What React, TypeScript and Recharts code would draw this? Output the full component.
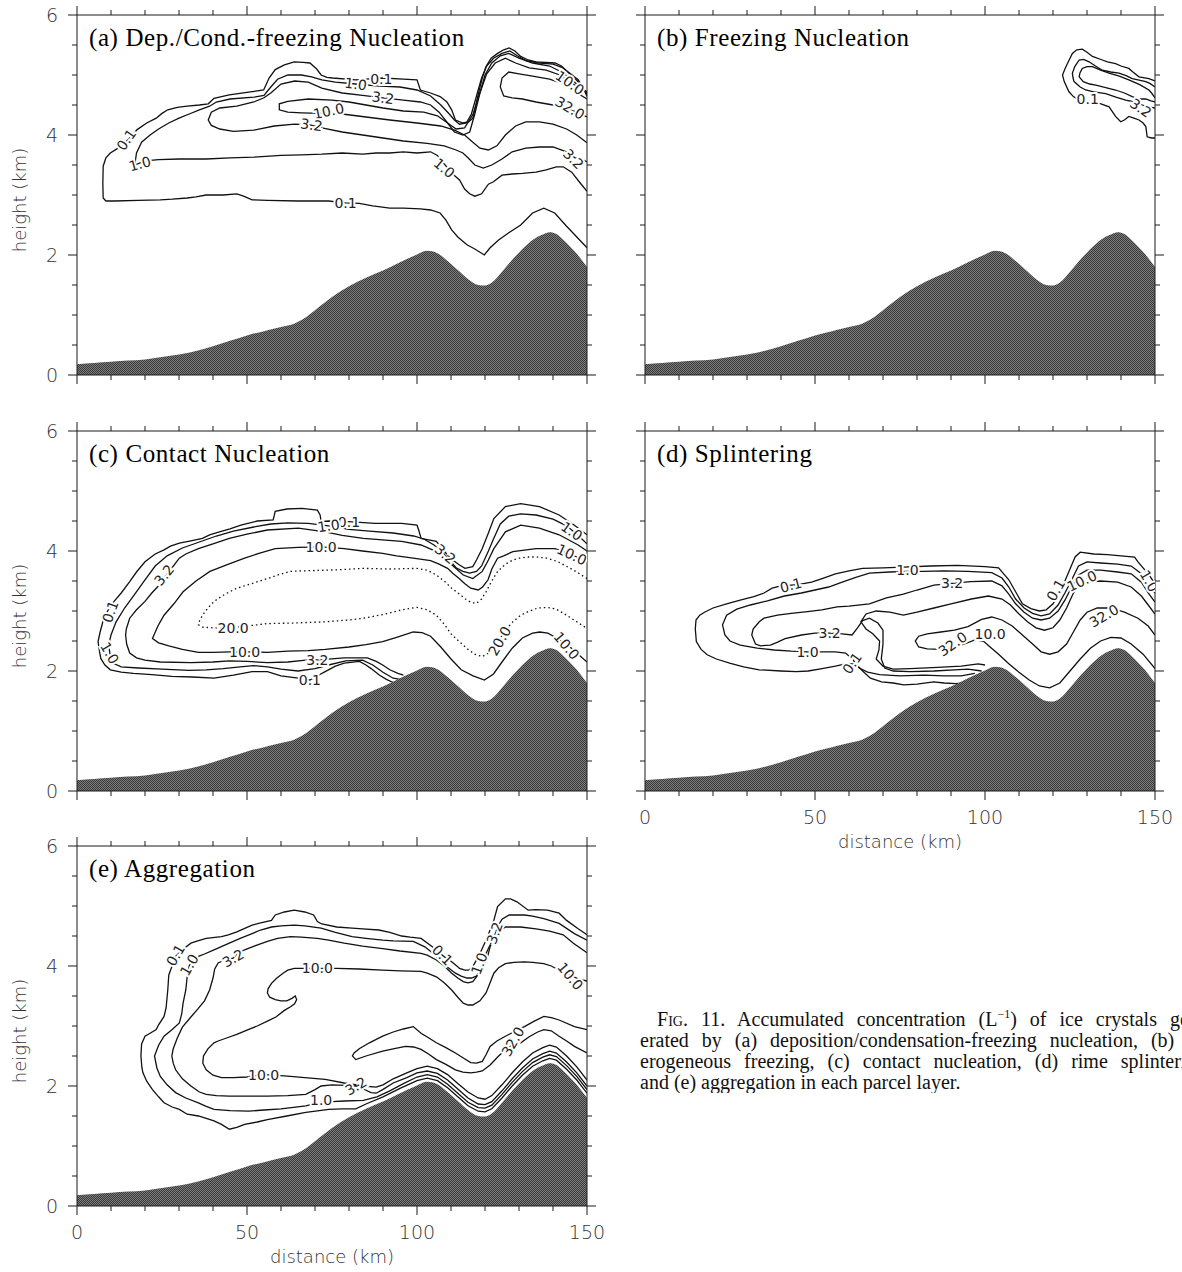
import { ComposedChart, Line, Area, Scatter, XAxis, YAxis } from "recharts";

type Pt = [number, number];
type Lab = [number, number, string, number];

const X_TICKS = [0, 10, 20, 30, 40, 50, 60, 70, 80, 90, 100, 110, 120, 130, 140, 150];
const Y_TICKS = [0, 0.5, 1, 1.5, 2, 2.5, 3, 3.5, 4, 4.5, 5, 5.5, 6];
const X_MAJOR = [0, 50, 100, 150];
const Y_MAJOR = [0, 2, 4, 6];

// terrain profile (km)
const TERRAIN: Pt[] = [
  [0, 0.18], [5, 0.2], [10, 0.22], [15, 0.24], [20, 0.26], [25, 0.3], [30, 0.34], [35, 0.4],
  [40, 0.48], [45, 0.57], [50, 0.66], [55, 0.73], [60, 0.8], [64, 0.86], [67, 0.95], [70, 1.08],
  [75, 1.3], [80, 1.48], [85, 1.62], [90, 1.74], [95, 1.88], [100, 2.01], [103, 2.07], [106, 2.03],
  [109, 1.9], [112, 1.75], [115, 1.6], [118, 1.5], [120, 1.49], [122, 1.54], [125, 1.72], [128, 1.92],
  [131, 2.1], [134, 2.25], [137, 2.34], [139, 2.38], [141, 2.35], [144, 2.2], [147, 2.02], [150, 1.8],
];

// (a) deposition / condensation-freezing
const A_01: Pt[] = [
  [150, 2.12], [147, 2.3], [144, 2.48], [140.5, 2.7], [137.3, 2.78], [134, 2.7], [130.5, 2.5], [127, 2.37],
  [124, 2.25], [121.5, 2.12], [119.8, 2.0], [117, 2.1], [114.7, 2.17], [112, 2.3], [110.2, 2.42], [108.5, 2.58],
  [106.8, 2.7], [104, 2.75], [101, 2.77], [96, 2.78], [92, 2.78], [87, 2.82], [83, 2.86], [79, 2.87], [74, 2.9],
  [65, 2.9], [56, 2.91], [51.5, 2.92], [49, 2.98], [47, 3.02], [43, 3.0], [38, 3.0], [35, 2.97], [32.4, 2.95],
  [28, 2.93], [24.5, 2.92], [18, 2.91], [11, 2.9], [8.5, 2.9], [7.7, 2.95], [7.6, 3.2], [7.7, 3.48], [8.5, 3.62],
  [9.8, 3.7], [11.5, 3.76], [13.2, 3.82], [15.5, 3.95], [17.7, 4.09], [20.5, 4.2], [23.3, 4.28], [25, 4.36],
  [26.7, 4.42], [29.5, 4.46], [32.4, 4.48], [36, 4.5], [38.6, 4.52], [40.3, 4.61], [42.5, 4.64], [44.8, 4.67],
  [50, 4.71], [54.9, 4.75], [56.5, 4.95], [58.3, 5.09], [61, 5.17], [63.9, 5.22], [66.5, 5.21], [68.5, 5.2],
  [70.5, 5.1], [71.8, 5.0], [73.5, 4.96], [75.2, 4.95], [82, 4.92], [90, 4.95], [96, 4.93], [100, 4.92],
  [101, 4.75], [104, 4.7], [106.8, 4.64], [108.8, 4.55], [110.2, 4.42], [111.3, 4.25], [113.5, 4.2],
  [115.2, 4.22], [116.4, 4.28], [117.3, 4.5], [118.1, 4.7], [119.2, 4.95], [120.3, 5.14], [121.8, 5.28],
  [123.7, 5.36], [125.5, 5.42], [127.1, 5.45], [128.8, 5.4], [130.5, 5.31], [132.7, 5.25], [135, 5.22],
  [140.6, 5.2], [142.5, 5.15], [144, 5.06], [145.8, 4.99], [147.4, 4.92], [148.8, 4.8], [150, 4.64],
];
const A_1: Pt[] = [
  [150, 3.06], [148, 3.2], [145.5, 3.38], [143, 3.47], [141, 3.47], [138, 3.42], [135, 3.38], [131, 3.36],
  [128, 3.35], [125, 3.33], [122.5, 3.22], [121, 3.18], [119, 3.02], [117, 2.98], [115.5, 3.02], [114, 3.1],
  [112.5, 3.25], [110.5, 3.35], [108, 3.52], [106, 3.66], [104, 3.72], [100, 3.7], [96, 3.72], [92, 3.7],
  [88, 3.7], [84, 3.68], [78, 3.7], [72, 3.68], [66, 3.67], [60, 3.66], [52, 3.63], [45, 3.62], [38, 3.6],
  [30, 3.6], [24, 3.59], [20, 3.57], [17, 3.5], [17.5, 3.7], [19, 3.88], [21.5, 4.0], [24, 4.1], [27, 4.2],
  [30, 4.28], [33, 4.35], [36, 4.42], [39, 4.48], [41, 4.55], [45, 4.6], [52, 4.63], [55, 4.66], [57, 4.8],
  [59, 4.93], [62, 5.0], [66, 5.0], [69, 4.97], [72, 4.92], [76, 4.88], [82, 4.85], [88, 4.82], [95, 4.8],
  [100, 4.75], [104, 4.65], [107, 4.5], [109.5, 4.35], [111, 4.25], [112.5, 4.18], [114.5, 4.2], [116, 4.35],
  [117.5, 4.65], [119, 4.95], [120.5, 5.15], [122.5, 5.28], [125, 5.36], [127.3, 5.4], [129.5, 5.32],
  [132, 5.24], [136, 5.2], [140, 5.18], [143, 5.12], [145.5, 5.0], [148, 4.85], [150, 4.68],
];
const A_32: Pt[] = [
  [150, 3.55], [148.5, 3.6], [146.5, 3.62], [144, 3.72], [140, 3.8], [136, 3.8], [132, 3.78], [128, 3.72],
  [125, 3.6], [122, 3.5], [119.5, 3.45], [117, 3.5], [115, 3.62], [113.5, 3.7], [111.5, 3.75], [108, 3.82],
  [103, 3.86], [96, 3.9], [90, 3.95], [84, 4.0], [78, 4.05], [72, 4.12], [68.5, 4.17], [64, 4.18], [58, 4.15],
  [52, 4.08], [46, 4.06], [42, 4.1], [39.5, 4.16], [38.6, 4.25], [39.5, 4.38], [42, 4.45], [47, 4.48],
  [52, 4.55], [55, 4.62], [57, 4.7], [60, 4.85], [64, 4.9], [68, 4.88], [72, 4.78], [78, 4.7], [84, 4.66],
  [90, 4.62], [96, 4.58], [101, 4.55], [104, 4.5], [106.5, 4.38], [109, 4.2], [111, 4.05], [113.5, 4.0],
  [115.5, 4.05], [117, 4.35], [118.5, 4.7], [120, 5.0], [122, 5.2], [124.5, 5.32], [127, 5.36], [130, 5.28],
  [134, 5.2], [139, 5.15], [142.5, 5.05], [145, 4.95], [147.5, 4.82], [150, 4.7],
];
const A_10: Pt[] = [
  [150, 3.87], [147, 4.0], [144, 4.1], [140, 4.18], [136, 4.22], [132, 4.22], [129, 4.15], [126, 4.0],
  [123.5, 3.82], [121, 3.75], [118.5, 3.78], [116, 3.9], [114, 4.0], [111, 4.08], [107, 4.15], [100, 4.2],
  [92, 4.25], [85, 4.3], [78, 4.35], [72, 4.36], [66, 4.37], [62, 4.38], [59.5, 4.42], [59.5, 4.52],
  [62, 4.56], [68, 4.6], [75, 4.58], [80, 4.55], [85, 4.5], [90, 4.45], [96, 4.4], [102, 4.38], [106, 4.32],
  [109, 4.2], [111.5, 4.1], [114, 4.12], [116.5, 4.35], [118.5, 4.7], [120.5, 5.02], [123, 5.2], [126, 5.28],
  [129, 5.2], [133, 5.12], [138, 5.08], [142, 5.0], [145, 4.88], [147.5, 4.8], [150, 4.72],
];
const A_320: Pt[] = [
  [150, 4.3], [147, 4.38], [144, 4.44], [140, 4.5], [135, 4.55], [131, 4.6], [128, 4.62], [125.5, 4.65],
  [124.5, 4.8], [125, 4.95], [127, 5.05], [130, 5.02], [134, 4.98], [139, 4.93], [143, 4.85], [146.5, 4.72],
  [150, 4.6],
];
const A_LABELS: Lab[] = [
  [14.5, 3.92, "0.1", -55], [18.5, 3.52, "1.0", -15], [79, 2.87, "0.1", 0], [89.5, 4.94, "0.1", 0],
  [82, 4.85, "1.0", 8], [90, 4.62, "3.2", 8], [74, 4.4, "10.0", -12], [69, 4.17, "3.2", 8],
  [108, 3.45, "1.0", 40], [145, 4.87, "10.0", 35], [145, 4.45, "32.0", 30], [146, 3.6, "3.2", 45],
];

// (b) freezing nucleation
const B_01: Pt[] = [
  [150, 4.9], [148.2, 4.94], [145.3, 4.97], [143.5, 5.05], [142.3, 5.11], [140, 5.15], [138.4, 5.19],
  [136, 5.22], [134.5, 5.25], [131.6, 5.31], [130, 5.38], [128.6, 5.43], [127, 5.42], [125.7, 5.36],
  [124.5, 5.22], [123.5, 5.1], [122.8, 5.0], [123.3, 4.89], [124.7, 4.72], [126, 4.64], [127.7, 4.58],
  [130, 4.55], [133.5, 4.53], [136.5, 4.47], [138.4, 4.31], [139.9, 4.22], [141, 4.25], [142.3, 4.31],
  [143.8, 4.28], [145.3, 4.25], [146.5, 4.2], [147.3, 4.14], [147.7, 3.97], [149, 3.95], [150, 3.95],
];
const B_1: Pt[] = [
  [150, 4.8], [148.5, 4.86], [147.3, 4.89], [145, 4.92], [143.3, 4.94], [141.5, 4.99], [139.4, 5.03],
  [137, 5.05], [134.5, 5.08], [132.5, 5.15], [130.6, 5.22], [129, 5.26], [127.7, 5.25], [126.4, 5.14],
  [125.7, 5.03], [125.9, 4.95], [126.2, 4.89], [128, 4.8], [129.6, 4.75], [132, 4.72], [135.5, 4.69],
  [138.5, 4.63], [141.4, 4.58], [144, 4.55], [146.3, 4.5], [148, 4.47], [150, 4.45],
];
const B_32: Pt[] = [
  [150, 4.62], [149, 4.7], [148.2, 4.75], [145.5, 4.84], [142.3, 4.92], [139.5, 4.98], [136.5, 5.03],
  [134, 5.08], [131.6, 5.14], [130, 5.14], [128.6, 5.11], [127.9, 5.03], [127.7, 4.97], [128.9, 4.89],
  [130.8, 4.85], [132.6, 4.83], [135.5, 4.79], [138.4, 4.75], [141, 4.7], [143.3, 4.64], [145.5, 4.6],
  [147.3, 4.6], [148.8, 4.57], [150, 4.55],
];
const B_LABELS: Lab[] = [[130.2, 4.6, "0.1", 0], [145.8, 4.45, "3.2", 35]];

// (c) contact nucleation
const C_01: Pt[] = [
  [150, 4.27], [146.3, 4.43], [141.8, 4.6], [136, 4.74], [130.5, 4.79], [126, 4.74], [122.6, 4.54], [121, 4.3],
  [119.2, 4.04], [117.5, 3.85], [116.4, 3.74], [114.1, 3.71], [112.4, 3.77], [110.5, 3.85], [109, 3.93],
  [107.3, 4.05], [105.7, 4.16], [103, 4.19], [101.2, 4.21], [100.5, 4.35], [100, 4.43], [95.5, 4.46],
  [87.6, 4.46], [80, 4.49], [74, 4.5], [71.8, 4.49], [71.5, 4.6], [70.7, 4.68], [66.2, 4.71], [61.7, 4.7],
  [58.3, 4.66], [57.7, 4.52], [53, 4.5], [48.2, 4.43], [45, 4.37], [41.9, 4.32], [39, 4.27], [36.9, 4.21],
  [33.5, 4.17], [30.1, 4.13], [27.5, 4.08], [25.6, 4.02], [23, 3.95], [20, 3.82], [17.5, 3.65], [15.5, 3.49],
  [13, 3.3], [10.9, 3.16], [9, 3.0], [7.6, 2.82], [6.8, 2.65], [6.2, 2.49], [6.6, 2.33], [7, 2.21], [8.2, 2.1],
  [9.8, 2.02], [13, 1.98], [16.6, 1.96], [22, 1.94], [27.9, 1.91], [34, 1.9], [40.3, 1.88], [46, 1.93],
  [51.5, 1.99], [56, 1.99], [60, 1.92], [65.1, 1.88], [68.5, 1.85], [71, 1.93], [73, 1.99], [76, 2.08],
  [78.6, 2.13], [83.1, 2.16], [85, 2.1], [86.5, 2.04], [89, 1.93], [91, 1.86], [93.3, 1.8],
];
const C_1: Pt[] = [
  [150, 4.12], [147, 4.28], [144, 4.42], [140, 4.53], [135, 4.6], [130.5, 4.62], [127, 4.58], [124.5, 4.45],
  [122.5, 4.2], [121, 4.0], [119, 3.75], [117.5, 3.66], [115.5, 3.63], [113.5, 3.66], [111.5, 3.72],
  [109.5, 3.85], [107.5, 3.98], [105, 4.1], [102, 4.2], [99, 4.25], [93, 4.3], [86, 4.33], [80, 4.36],
  [74, 4.42], [68, 4.46], [62, 4.47], [57, 4.45], [52, 4.4], [46, 4.33], [41, 4.25], [36, 4.15], [31, 4.05],
  [26.5, 3.92], [23, 3.75], [20, 3.52], [17, 3.28], [14, 3.05], [11.5, 2.82], [10, 2.6], [9.3, 2.43],
  [9.8, 2.25], [11, 2.12], [13, 2.07], [18, 2.05], [25, 2.03], [33, 2.01], [38, 2.02], [43, 2.04], [48, 2.07],
  [52, 2.09], [56, 2.07], [60, 2.03], [65, 2.0], [70, 2.04], [74, 2.1], [79, 2.17], [84, 2.18], [87, 2.1],
  [90, 1.98], [93, 1.88], [95, 1.86],
];
const C_32: Pt[] = [
  [150, 4.0], [147.4, 4.1], [141.8, 4.27], [136, 4.38], [130.5, 4.43], [126, 4.32], [122.6, 4.04],
  [121, 3.85], [119.2, 3.66], [116.4, 3.54], [113.6, 3.6], [110.2, 3.77], [107.5, 3.9], [105.7, 3.99],
  [101.2, 4.1], [95.5, 4.16], [84.2, 4.21], [78, 4.26], [73, 4.32], [65.1, 4.38], [56, 4.35], [50, 4.28],
  [44.8, 4.21], [40, 4.12], [35.7, 4.04], [32, 3.95], [30.1, 3.88], [27, 3.65], [24.5, 3.45], [22, 3.3],
  [20, 3.16], [17.5, 3.02], [15.5, 2.88], [14.5, 2.7], [14.3, 2.6], [14.6, 2.45], [15.5, 2.3], [17.5, 2.22],
  [20, 2.18], [24.5, 2.15], [33.5, 2.14], [40, 2.15], [44.8, 2.17], [50, 2.16], [56, 2.14], [62, 2.15],
  [67.3, 2.18], [72, 2.19], [78.6, 2.22], [85.4, 2.22], [88, 2.16], [89.9, 2.1], [92, 2.02], [94.4, 1.96],
  [96, 1.93],
];
const C_10: Pt[] = [
  [150, 3.82], [147, 3.9], [145, 3.95], [140.6, 4.04], [135, 4.04], [128.2, 3.99], [125.5, 3.92],
  [123.7, 3.88], [122, 3.7], [120.9, 3.52], [119.3, 3.4], [118, 3.35], [115.8, 3.38], [114, 3.46],
  [112.4, 3.54], [110.5, 3.63], [109, 3.71], [106.5, 3.78], [104, 3.84], [98.9, 3.88], [94, 3.92],
  [89.9, 3.96], [84, 4.0], [78.6, 4.04], [71.8, 4.07], [65, 4.06], [58.3, 4.04], [53.5, 3.96], [49.3, 3.88],
  [44, 3.77], [39.1, 3.66], [35, 3.5], [31.2, 3.32], [28.5, 3.12], [25.6, 2.93], [23.8, 2.75], [22.2, 2.54],
  [24, 2.47], [27, 2.42], [31, 2.36], [35.7, 2.31], [40, 2.31], [45, 2.32], [50, 2.32], [56, 2.31],
  [62, 2.33], [68, 2.34], [73, 2.36], [80, 2.4], [85, 2.44], [89.9, 2.49], [94, 2.56], [98.9, 2.65],
  [101.5, 2.64], [104, 2.58], [107, 2.4], [110, 2.2], [113, 2.02], [116.5, 1.92], [119.8, 1.85], [122.5, 1.95],
  [125, 2.15], [128, 2.38], [131, 2.55], [134, 2.63], [136.1, 2.65], [138.5, 2.63], [141, 2.55], [144, 2.45],
  [147, 2.3], [150, 2.15],
];
const C_20: Pt[] = [
  [150, 3.54], [147, 3.65], [145.1, 3.71], [141.5, 3.82], [138.4, 3.88], [135, 3.9], [132.7, 3.9], [130, 3.88],
  [128.2, 3.85], [126, 3.78], [123.7, 3.66], [122, 3.5], [120.3, 3.32], [119, 3.2], [117.5, 3.13], [116, 3.14],
  [114.7, 3.18], [112.5, 3.28], [110.2, 3.38], [108, 3.5], [105.7, 3.6], [103, 3.68], [100, 3.71], [92, 3.7],
  [84.2, 3.71], [78, 3.69], [73, 3.68], [67, 3.67], [62.8, 3.66], [59, 3.6], [56, 3.54], [51, 3.45], [47, 3.38],
  [43.5, 3.28], [40.3, 3.16], [38.5, 3.05], [36.9, 2.93], [36, 2.83], [35.7, 2.77], [37, 2.73], [40, 2.72],
  [45, 2.72], [50, 2.75], [56, 2.79], [64, 2.8], [73, 2.82], [80, 2.85], [84.2, 2.88], [90, 2.94], [95.5, 3.02],
  [100, 3.06], [103, 3.02], [105.7, 2.93], [108, 2.78], [110, 2.62], [112.4, 2.49], [115, 2.36], [117, 2.28],
  [119.2, 2.24], [121, 2.3], [123, 2.4], [124.5, 2.55], [126, 2.68], [128.2, 2.82], [130.5, 2.93],
  [132.7, 2.99], [135.5, 3.05], [138.4, 3.06], [141, 3.03], [144, 2.93], [147, 2.82], [150, 2.71],
];
const C_LABELS: Lab[] = [
  [80, 4.49, "0.1", 0], [74, 4.42, "1.0", -8], [71.8, 4.07, "10.0", 0], [25.6, 3.6, "3.2", -50],
  [9.8, 2.99, "0.1", -70], [9.6, 2.3, "1.0", 60], [45.9, 2.72, "20.0", 0], [49.3, 2.32, "10.0", 0],
  [70.7, 2.18, "3.2", 0], [68.5, 1.85, "0.1", 0], [124.3, 2.5, "20.0", -60], [144, 2.42, "10.0", 50],
  [145.5, 4.33, "1.0", 35], [145.5, 3.94, "10.0", 25], [108.3, 3.95, "3.2", 40],
];

// (d) splintering
const D_01: Pt[] = [
  [150, 3.45], [148.5, 3.58], [146.5, 3.72], [145, 3.82], [144, 3.9], [140, 3.92], [136, 3.94], [132, 3.95],
  [128, 3.98], [126.5, 3.9], [125, 3.7], [123.5, 3.5], [122, 3.3], [120, 3.12], [118, 3.02], [116, 3.0],
  [113.5, 3.04], [111, 3.12], [109, 3.32], [107, 3.52], [105.5, 3.62], [104, 3.72], [100, 3.74], [92, 3.76],
  [84, 3.75], [76, 3.73], [70, 3.72], [64, 3.71], [60, 3.67], [56, 3.62], [52.1, 3.54], [49, 3.48], [45, 3.44],
  [40, 3.42], [37.4, 3.38], [35, 3.3], [32, 3.24], [28, 3.18], [24, 3.12], [20, 3.05], [17.5, 2.98],
  [16.1, 2.93], [15, 2.85], [14.8, 2.7], [15.1, 2.49], [16.5, 2.36], [18.3, 2.27], [21, 2.2], [24.9, 2.13],
  [29, 2.07], [33.6, 2.02], [40, 2.0], [44.5, 1.99], [48, 2.0], [52.1, 2.04], [56, 2.08], [59, 2.12],
  [62, 2.12], [64, 2.0], [66.3, 1.88], [69.6, 1.82], [73, 1.8], [76.1, 1.77], [80, 1.78], [84.9, 1.82],
  [88, 1.8], [91.4, 1.79], [94, 1.8], [96, 1.84],
];
const D_1: Pt[] = [
  [150, 3.3], [148, 3.45], [146, 3.62], [143, 3.75], [139, 3.78], [134, 3.8], [130, 3.82], [127.5, 3.75],
  [125.5, 3.52], [123.5, 3.3], [121.5, 3.1], [119, 2.95], [116.5, 2.92], [114, 2.96], [111.5, 3.05],
  [109, 3.2], [107, 3.4], [105, 3.55], [102, 3.64], [95, 3.66], [88, 3.67], [82, 3.66], [77, 3.66],
  [72, 3.65], [66, 3.63], [62, 3.56], [58, 3.48], [54, 3.4], [50, 3.35], [46, 3.3], [41, 3.25], [36, 3.17],
  [31, 3.1], [27, 3.03], [24, 2.93], [22.8, 2.77], [23.5, 2.6], [25, 2.5], [28, 2.43], [33, 2.38],
  [38, 2.35], [43, 2.33], [47.8, 2.32], [52, 2.32], [56, 2.32], [59, 2.3], [61, 2.2], [63, 2.05],
  [65.5, 1.98], [69, 1.94], [75, 1.92], [82, 1.93], [88, 1.92], [93, 1.92], [97, 1.96],
];
const D_32: Pt[] = [
  [150, 3.15], [148, 3.3], [146, 3.48], [143, 3.62], [139, 3.65], [134, 3.68], [130, 3.68], [127.5, 3.6],
  [125.5, 3.4], [123.5, 3.18], [121.5, 3.0], [119, 2.88], [116.5, 2.85], [114, 2.88], [111.5, 2.98],
  [109, 3.12], [107, 3.28], [105, 3.42], [102, 3.5], [95.8, 3.49], [90.3, 3.46], [85, 3.43], [80, 3.35],
  [76, 3.28], [71, 3.22], [66, 3.12], [60, 3.08], [56.5, 3.07], [52, 3.02], [47.8, 2.99], [43, 2.96],
  [39, 2.93], [35, 2.88], [33.6, 2.82], [31.8, 2.7], [31.4, 2.6], [32.5, 2.45], [34, 2.42], [36.9, 2.43],
  [39, 2.48], [41.2, 2.54], [46, 2.6], [50, 2.63], [54.3, 2.63], [58, 2.62], [60.9, 2.6], [62.5, 2.72],
  [64, 2.84], [66, 2.88], [68.5, 2.8], [70, 2.68], [70, 2.45], [69.5, 2.2], [70.5, 2.05], [73, 2.0],
  [78, 1.99], [85, 2.0], [91, 2.02], [95, 2.03], [99, 2.0],
];
const D_10: Pt[] = [
  [150, 2.95], [148, 3.1], [146, 3.25], [143, 3.4], [139, 3.48], [134, 3.5], [130, 3.48], [128, 3.45],
  [126, 3.3], [124, 3.05], [122, 2.85], [120, 2.72], [117.5, 2.68], [115, 2.72], [112.5, 2.82], [110, 2.95],
  [107.5, 3.1], [105, 3.2], [101, 3.25], [96, 3.2], [90, 3.12], [85, 3.05], [80, 2.98], [76, 2.93],
  [72, 2.98], [68, 3.0], [65, 2.95], [63.5, 2.82], [65, 2.7], [67, 2.62], [69, 2.5], [68.8, 2.35],
  [68, 2.2], [70, 2.08], [73, 2.03], [78, 2.04], [86, 2.06], [93, 2.08], [98, 2.12], [100, 2.1],
];
const D_320: Pt[] = [
  [150, 2.6], [148, 2.75], [145, 2.88], [141, 2.98], [137, 3.05], [133, 3.05], [130, 2.98], [128, 2.85],
  [126, 2.65], [124, 2.45], [121.5, 2.32], [119, 2.28], [116.5, 2.32], [114, 2.45], [111, 2.6], [108, 2.75],
  [105, 2.85], [102, 2.9], [99, 2.86], [95, 2.74], [91, 2.68], [87, 2.65], [83, 2.62], [80.5, 2.58],
  [79.5, 2.5], [80.5, 2.4], [83, 2.37], [87, 2.36], [91, 2.38], [94, 2.45], [97, 2.52], [99.5, 2.5],
  [101.5, 2.4], [104, 2.28], [107, 2.12], [110, 1.98], [113, 1.85], [116, 1.75], [119, 1.72], [122, 1.8],
  [125, 2.0], [128, 2.2], [131, 2.38], [134, 2.5], [137, 2.56], [140, 2.55], [143, 2.45], [146.5, 2.28],
  [150, 2.04],
];
const D_LABELS: Lab[] = [
  [42.9, 3.43, "0.1", -15], [77.2, 3.69, "1.0", 0], [90.3, 3.46, "3.2", 0], [54.3, 2.63, "3.2", 0],
  [47.8, 2.32, "1.0", 0], [60.9, 2.13, "0.1", -55], [90.5, 2.45, "32.0", -35], [101.5, 2.62, "10.0", 0],
  [120.8, 3.35, "0.1", -60], [128.5, 3.5, "10.0", -25], [135, 2.92, "32.0", -30], [148.3, 3.5, "1.0", 60],
];

// (e) aggregation
const E_01: Pt[] = [
  [150, 4.52], [147.4, 4.62], [144, 4.76], [141.8, 4.88], [138.4, 4.93], [135, 4.94], [132.7, 4.93],
  [129.4, 5.07], [127.5, 5.12], [126, 5.12], [123.7, 4.99], [122.6, 4.76], [121.5, 4.6], [120.3, 4.43],
  [118.1, 4.16], [116.4, 3.99], [115.2, 3.93], [114.1, 3.93], [112.5, 3.96], [111.9, 3.99], [110, 4.08],
  [107.9, 4.16], [106, 4.25], [104.5, 4.32], [101.2, 4.46], [98, 4.48], [95.5, 4.5], [92, 4.56], [88.8, 4.6],
  [84, 4.62], [80.9, 4.63], [76.4, 4.65], [72, 4.7], [70.7, 4.74], [69.6, 4.85], [67, 4.9], [63.9, 4.93],
  [61, 4.9], [58.3, 4.85], [57.2, 4.76], [54, 4.72], [51.5, 4.68], [49, 4.62], [47, 4.57], [44.5, 4.52],
  [42.5, 4.49], [38, 4.46], [35.5, 4.42], [33.5, 4.38], [31, 4.27], [29, 4.16], [27.9, 3.99], [27, 3.85],
  [26.7, 3.6], [26.2, 3.3], [25.6, 3.16], [24, 3.02], [23.3, 2.94], [21.5, 2.88], [20, 2.83], [19, 2.7],
  [18.8, 2.5], [19.1, 2.3], [19.4, 2.22], [20.5, 2.08], [22.2, 1.94], [24, 1.82], [25.6, 1.72], [28, 1.65],
  [30.1, 1.61], [32.4, 1.53], [35.7, 1.5], [38, 1.46], [40.3, 1.42], [42.5, 1.36], [44.8, 1.28], [47, 1.31],
  [49.3, 1.36], [53, 1.4], [56, 1.44], [61.7, 1.5], [67.3, 1.56], [74.1, 1.61], [78, 1.62], [82, 1.62],
  [85, 1.7], [90, 1.82], [95, 1.96], [100, 2.09], [103, 2.13], [106, 2.09], [109, 1.97], [112, 1.82],
  [115, 1.67], [118, 1.58], [120, 1.57], [122, 1.62], [125, 1.8], [128, 2.0], [131, 2.18], [134, 2.33],
  [137, 2.42], [139, 2.46], [141, 2.43], [144, 2.28], [147, 2.1], [150, 1.88],
];
const E_1: Pt[] = [
  [150, 4.43], [146.3, 4.54], [141.8, 4.71], [137.3, 4.79], [134, 4.83], [131.6, 4.85], [127.1, 4.85],
  [125, 4.78], [123.7, 4.65], [122.5, 4.45], [121.5, 4.32], [120.5, 4.1], [119, 3.95], [117.5, 3.83],
  [116, 3.8], [114.7, 3.8], [113, 3.83], [111.3, 3.88], [109, 3.98], [106.8, 4.1], [104.5, 4.22],
  [102.3, 4.32], [98.9, 4.41], [93, 4.42], [89.9, 4.43], [85, 4.46], [80.9, 4.49], [76, 4.56], [71.8, 4.63],
  [67, 4.67], [63.9, 4.68], [60, 4.67], [57.2, 4.65], [54, 4.6], [51.5, 4.54], [48, 4.46], [44.8, 4.38],
  [40.3, 4.27], [37.5, 4.2], [35.7, 4.16], [34, 4.1], [33, 4.0], [32.4, 3.82], [32, 3.6], [31.2, 3.38],
  [30.8, 3.2], [30.1, 3.05], [28, 2.94], [25.6, 2.83], [24, 2.68], [22.8, 2.5], [23.5, 2.3], [24.5, 2.16],
  [26.5, 2.02], [29, 1.89], [32, 1.8], [35.7, 1.72], [38, 1.66], [40.3, 1.61], [45, 1.59], [50.4, 1.58],
  [55, 1.6], [60, 1.62], [67.3, 1.67], [71.8, 1.73], [75, 1.74], [78.6, 1.75], [84.2, 1.76], [88.2, 1.82],
  [92, 1.92], [96, 2.04], [100, 2.15], [103, 2.19], [106, 2.15], [109, 2.03], [112, 1.88], [115, 1.73],
  [118, 1.64], [120, 1.63], [122, 1.68], [125, 1.86], [128, 2.06], [131, 2.24], [134, 2.39], [137, 2.48],
  [139, 2.52], [141, 2.49], [144, 2.34], [147, 2.16], [150, 1.94],
];
const E_32: Pt[] = [
  [150, 4.22], [146, 4.38], [143, 4.52], [139, 4.58], [135, 4.62], [130.5, 4.65], [126, 4.65], [124, 4.57],
  [122.6, 4.49], [121.5, 4.35], [120.3, 4.21], [119.4, 4.05], [118.6, 3.94], [117.5, 3.82], [116.4, 3.74],
  [115, 3.72], [113.6, 3.74], [112, 3.8], [110.2, 3.88], [108, 4.0], [105.7, 4.1], [103, 4.18], [101.2, 4.21],
  [95, 4.25], [89.9, 4.29], [84, 4.33], [78.6, 4.38], [74, 4.43], [70.7, 4.46], [66, 4.48], [62.8, 4.49],
  [59, 4.46], [56, 4.41], [52.5, 4.34], [49.3, 4.27], [47, 4.2], [45.9, 4.13], [43.5, 4.1], [41.5, 4.05],
  [40.5, 3.95], [40, 3.8], [39, 3.6], [37.5, 3.42], [35.5, 3.28], [33.5, 3.15], [31, 2.98], [29.5, 2.8],
  [28.3, 2.62], [27.9, 2.5], [28.3, 2.38], [29, 2.27], [31, 2.12], [33.5, 2.0], [36, 1.9], [38, 1.86],
  [41, 1.84], [44.8, 1.83], [50, 1.83], [56, 1.83], [62, 1.84], [67.3, 1.86], [70, 1.94], [71.8, 2.0],
  [75, 2.02], [79, 2.01], [82, 2.0], [84.2, 1.95], [86.5, 1.89], [88, 1.88], [89.9, 1.94], [93, 2.05],
  [97, 2.14], [100, 2.22], [103, 2.25], [106, 2.21], [109, 2.1], [112, 1.95], [115, 1.8], [118, 1.7],
  [120, 1.69], [122, 1.74], [125, 1.92], [128, 2.12], [131, 2.3], [134, 2.45], [137, 2.54], [139, 2.58],
  [141, 2.55], [144, 2.4], [147, 2.22], [150, 2.0],
];
const E_10: Pt[] = [
  [150, 3.75], [147.5, 3.78], [145.1, 3.85], [143, 3.9], [141.8, 3.93], [139.5, 4.0], [137.3, 4.04],
  [134, 4.06], [131.6, 4.07], [128.5, 4.06], [126, 4.04], [124, 3.97], [122.6, 3.88], [121.5, 3.72],
  [120.3, 3.55], [118.5, 3.42], [116.4, 3.35], [115, 3.35], [113.6, 3.38], [112, 3.48], [110.2, 3.6],
  [108, 3.72], [105.7, 3.82], [103, 3.88], [101.2, 3.91], [95, 3.92], [89.9, 3.93], [83, 3.95], [76.4, 3.96],
  [70, 3.96], [63.9, 3.96], [62, 3.93], [60.6, 3.88], [58.8, 3.8], [57.2, 3.71], [56.2, 3.62], [56, 3.55],
  [56.7, 3.48], [58.3, 3.44], [60, 3.42], [61.7, 3.42], [63.2, 3.46], [64.2, 3.5], [64.6, 3.44], [64, 3.37],
  [62.8, 3.32], [61, 3.26], [58.5, 3.15], [56, 3.08], [53, 3.0], [50, 2.93], [47, 2.86], [44, 2.8],
  [41.5, 2.75], [40.3, 2.72], [38.5, 2.62], [37.2, 2.5], [37, 2.38], [38, 2.27], [40, 2.18], [42.5, 2.14],
  [46, 2.14], [50, 2.15], [54.9, 2.19], [58, 2.18], [62.8, 2.16], [67, 2.14], [73, 2.11], [78.6, 2.05],
  [84.2, 2.0], [88, 1.98], [90, 2.02], [93, 2.12], [97, 2.22], [100, 2.29], [103, 2.33], [106, 2.29],
  [109, 2.19], [112, 2.04], [115, 1.9], [118, 1.8], [120, 1.78], [122, 1.84], [125, 2.02], [128, 2.22],
  [131, 2.4], [134, 2.55], [137, 2.64], [139, 2.68], [141, 2.65], [144, 2.5], [147, 2.32], [150, 2.1],
];
const E_320: Pt[] = [
  [150, 2.94], [146.3, 2.99], [141.8, 3.1], [139.5, 3.14], [137.3, 3.16], [134.5, 3.08], [131.6, 2.99],
  [128.8, 2.91], [126, 2.83], [123.5, 2.75], [121.5, 2.66], [120.3, 2.52], [119.2, 2.41], [117.5, 2.38],
  [115.8, 2.39], [113.5, 2.47], [111.3, 2.55], [108.5, 2.64], [105.7, 2.72], [103.5, 2.8], [101.2, 2.88],
  [98.9, 2.99], [96, 2.95], [93, 2.9], [89.9, 2.83], [86, 2.72], [83, 2.62], [81.5, 2.55], [81, 2.5],
  [82, 2.44], [85, 2.5], [89.9, 2.58], [93, 2.62], [96.6, 2.66], [99, 2.65], [101.2, 2.61], [103.5, 2.53],
  [105.7, 2.44], [108.5, 2.36], [111.3, 2.27], [113.5, 2.23], [115.8, 2.22], [117.5, 2.23], [119.2, 2.25],
  [121.5, 2.35], [124, 2.5], [126.5, 2.63], [128.5, 2.7], [130.5, 2.72], [133, 2.82], [135.5, 2.9],
  [137.3, 2.94], [139.5, 2.92], [141.8, 2.83], [144, 2.75], [146.3, 2.66], [150, 2.55],
];
const E_LABELS: Lab[] = [
  [29, 4.18, "0.1", -60], [33, 4.02, "1.0", -60], [45.9, 4.13, "3.2", -30], [70.7, 3.96, "10.0", 0],
  [54.9, 2.18, "10.0", 0], [82, 2.0, "3.2", -30], [71.8, 1.76, "1.0", 0], [107.5, 4.18, "0.1", 45],
  [118.3, 4.04, "1.0", -70], [122.8, 4.55, "3.2", -70], [145.1, 3.83, "10.0", 50], [128.2, 2.74, "32.0", -60],
];

const AXIS_FONT = "'DejaVu Sans', 'Liberation Sans', sans-serif";
const SERIF = "'Liberation Serif', 'Times New Roman', serif";
const INK = "#1a1a1a";

const PLOT_W = 510;
const PLOT_H = 360;
const LEFT_W = 75;
const RIGHT_W = 20;
const TOP_H = 20;
const BOTTOM_H = 60;

const toXY = (pts: Pt[]) => pts.map(([x, y]) => ({ x, y }));

function makeTick(side: "bottom" | "top" | "left" | "right", showText: boolean) {
  return (p: any) => {
    const v = p.payload.value;
    const major = side === "bottom" || side === "top" ? X_MAJOR.includes(v) : Y_MAJOR.includes(v);
    const len = major ? 9 : 5;
    const { x, y } = p;
    let line;
    if (side === "bottom") line = <line x1={x} x2={x} y1={y} y2={y + len} stroke={INK} />;
    else if (side === "top") line = <line x1={x} x2={x} y1={y} y2={y - len} stroke={INK} />;
    else if (side === "left") line = <line x1={x} x2={x - len} y1={y} y2={y} stroke={INK} />;
    else line = <line x1={x} x2={x + len} y1={y} y2={y} stroke={INK} />;
    let text = null;
    if (showText && major) {
      if (side === "bottom")
        text = (
          <text x={x} y={y + 33} textAnchor="middle" fontSize={19} fontFamily={AXIS_FONT} fontWeight={200} fill="#333">
            {v}
          </text>
        );
      if (side === "left")
        text = (
          <text x={x - 19} y={y + 7} textAnchor="end" fontSize={19} fontFamily={AXIS_FONT} fontWeight={200} fill="#333">
            {v}
          </text>
        );
    }
    return (
      <g>
        {line}
        {text}
      </g>
    );
  };
}

const labelShape = (p: any) => {
  const { cx, cy, payload } = p;
  return (
    <text
      x={cx}
      y={cy}
      transform={`rotate(${payload.a} ${cx} ${cy})`}
      textAnchor="middle"
      dominantBaseline="central"
      fontSize={14}
      fontFamily={AXIS_FONT}
      fill="#222"
      stroke="#fff"
      strokeWidth={4}
      paintOrder="stroke"
    >
      {payload.t}
    </text>
  );
};

type Series = { pts: Pt[]; dotted?: boolean };

function Panel(props: {
  id: string;
  left: number;
  top: number;
  title: string;
  series: Series[];
  labels: Lab[];
  yText: boolean;
  xText: boolean;
}) {
  const { id, left, top, title, series, labels, yText, xText } = props;
  const W = LEFT_W + PLOT_W + RIGHT_W;
  const H = TOP_H + PLOT_H + BOTTOM_H;
  const labData = labels.map(([x, y, t, a]) => ({ x, y, t, a }));
  return (
    <div style={{ position: "absolute", left: left - LEFT_W, top: top - TOP_H, width: W, height: H }}>
      <ComposedChart width={W} height={H} margin={{ top: 0, right: 0, bottom: 0, left: 0 }}>
        <defs>
          <pattern id={`stip-${id}`} width={2} height={2} patternUnits="userSpaceOnUse">
            <rect width={2} height={2} fill="#3a3a3a" />
            <rect x={0} y={0} width={1} height={1} fill="#7c7c7c" />
            <rect x={1} y={1} width={1} height={1} fill="#7c7c7c" />
          </pattern>
        </defs>
        <XAxis
          xAxisId="b"
          type="number"
          dataKey="x"
          domain={[0, 150]}
          allowDataOverflow
          ticks={X_TICKS}
          interval={0}
          orientation="bottom"
          height={BOTTOM_H}
          tickLine={false}
          tickSize={0}
          tickMargin={0}
          axisLine={{ stroke: INK }}
          tick={makeTick("bottom", xText)}
        />
        <XAxis
          xAxisId="t"
          type="number"
          dataKey="x"
          domain={[0, 150]}
          allowDataOverflow
          ticks={X_TICKS}
          interval={0}
          orientation="top"
          height={TOP_H}
          tickLine={false}
          tickSize={0}
          tickMargin={0}
          axisLine={{ stroke: INK }}
          tick={makeTick("top", false)}
        />
        <YAxis
          yAxisId="l"
          type="number"
          dataKey="y"
          domain={[0, 6]}
          allowDataOverflow
          ticks={Y_TICKS}
          interval={0}
          width={LEFT_W}
          tickLine={false}
          tickSize={0}
          tickMargin={0}
          axisLine={{ stroke: INK }}
          tick={makeTick("left", yText)}
        />
        <YAxis
          yAxisId="r"
          type="number"
          dataKey="y"
          orientation="right"
          domain={[0, 6]}
          allowDataOverflow
          ticks={Y_TICKS}
          interval={0}
          width={RIGHT_W}
          tickLine={false}
          tickSize={0}
          tickMargin={0}
          axisLine={{ stroke: INK }}
          tick={makeTick("right", false)}
        />
        {series.map((s, i) => (
          <Line
            key={i}
            xAxisId="b"
            yAxisId="l"
            data={toXY(s.pts)}
            dataKey="y"
            type="linear"
            stroke="#111"
            strokeWidth={1.3}
            strokeDasharray={s.dotted ? "1.5 3" : undefined}
            dot={false}
            activeDot={false}
            isAnimationActive={false}
          />
        ))}
        <Area
          xAxisId="b"
          yAxisId="l"
          data={toXY(TERRAIN)}
          dataKey="y"
          type="monotone"
          stroke="none"
          fill={`url(#stip-${id})`}
          fillOpacity={1}
          isAnimationActive={false}
          zIndex={450}
        />
        <Scatter xAxisId="b" yAxisId="l" data={labData} dataKey="y" shape={labelShape} isAnimationActive={false} />
      </ComposedChart>
      <div
        style={{
          position: "absolute",
          left: LEFT_W + 12,
          top: TOP_H + 10,
          fontFamily: SERIF,
          fontSize: 25,
          lineHeight: "25px",
          letterSpacing: 0.6,
          color: "#000",
          whiteSpace: "nowrap",
        }}
      >
        {title}
      </div>
      {yText && (
        <div
          style={{
            position: "absolute",
            left: 20 - (left - LEFT_W),
            top: TOP_H + PLOT_H / 2 + 5,
            transform: "translate(-50%, -50%) rotate(-90deg)",
            fontFamily: AXIS_FONT,
            fontWeight: 200,
            fontSize: 18,
            lineHeight: "18px",
            color: "#333",
            whiteSpace: "nowrap",
          }}
        >
          height (km)
        </div>
      )}
      {xText && (
        <div
          style={{
            position: "absolute",
            left: LEFT_W + PLOT_W / 2,
            top: TOP_H + PLOT_H + 51,
            transform: "translate(-50%, -50%)",
            fontFamily: AXIS_FONT,
            fontWeight: 200,
            fontSize: 18,
            lineHeight: "18px",
            color: "#333",
            whiteSpace: "nowrap",
          }}
        >
          distance (km)
        </div>
      )}
    </div>
  );
}

const captionLine = { whiteSpace: "nowrap" as const, height: 21 };

export default function App() {
  return (
    <div
      style={{
        position: "absolute",
        left: 0,
        top: 0,
        width: 1182,
        height: 1272,
        overflow: "hidden",
        background: "#fff",
      }}
    >
      <Panel
        id="a"
        left={77}
        top={15}
        title="(a) Dep./Cond.-freezing Nucleation"
        series={[{ pts: A_01 }, { pts: A_1 }, { pts: A_32 }, { pts: A_10 }, { pts: A_320 }]}
        labels={A_LABELS}
        yText
        xText={false}
      />
      <Panel
        id="b"
        left={645}
        top={15}
        title="(b) Freezing Nucleation"
        series={[{ pts: B_01 }, { pts: B_1 }, { pts: B_32 }]}
        labels={B_LABELS}
        yText={false}
        xText={false}
      />
      <Panel
        id="c"
        left={77}
        top={431}
        title="(c) Contact Nucleation"
        series={[{ pts: C_01 }, { pts: C_1 }, { pts: C_32 }, { pts: C_10 }, { pts: C_20, dotted: true }]}
        labels={C_LABELS}
        yText
        xText={false}
      />
      <Panel
        id="d"
        left={645}
        top={431}
        title="(d) Splintering"
        series={[{ pts: D_01 }, { pts: D_1 }, { pts: D_32 }, { pts: D_10 }, { pts: D_320 }]}
        labels={D_LABELS}
        yText={false}
        xText
      />
      <Panel
        id="e"
        left={77}
        top={846}
        title="(e) Aggregation"
        series={[{ pts: E_01 }, { pts: E_1 }, { pts: E_32 }, { pts: E_10 }, { pts: E_320 }]}
        labels={E_LABELS}
        yText
        xText
      />
      <div
        style={{
          position: "absolute",
          left: 640,
          top: 1009,
          width: 542,
          overflow: "hidden",
          fontFamily: SERIF,
          fontSize: 20,
          lineHeight: "21px",
          color: "#111",
        }}
      >
        <div style={{ ...captionLine, paddingLeft: 17, wordSpacing: 8 }}>
          F<span style={{ fontVariant: "small-caps" }}>ig</span>. 11. Accumulated concentration (L
          <sup style={{ fontSize: 12, lineHeight: 0 }}>−1</sup>) of ice crystals gen-
        </div>
        <div style={{ ...captionLine, wordSpacing: 8 }}>
          erated by (a) deposition/condensation-freezing nucleation, (b) het-
        </div>
        <div style={{ ...captionLine, wordSpacing: 8 }}>
          erogeneous freezing, (c) contact nucleation, (d) rime splintering,
        </div>
        <div style={captionLine}>and (e) aggregation in each parcel layer.</div>
      </div>
    </div>
  );
}
